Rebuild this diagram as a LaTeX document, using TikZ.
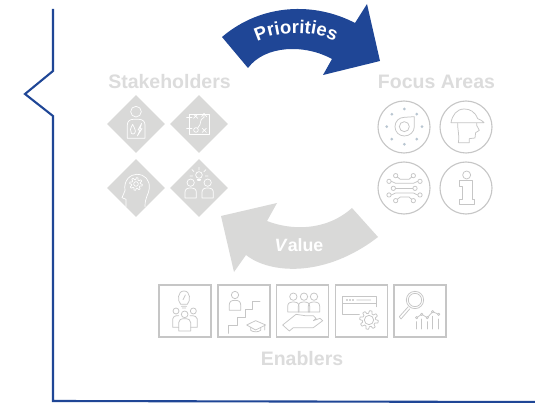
\documentclass[tikz,border=0pt]{standalone}
\usepackage{fontspec}
\setmainfont{Liberation Sans}
\usetikzlibrary{shapes.geometric,decorations.text}
\definecolor{navy}{HTML}{1F4696}
\definecolor{lightg}{HTML}{D9D9D8}
\definecolor{txtg}{HTML}{DCDCDC}
\definecolor{lineg}{HTML}{C6C6C6}
\definecolor{dotg}{HTML}{B9C6D1}
\tikzset{
  frameline/.style={draw=navy,line width=2.1pt,line join=miter},
  dia/.style={diamond,aspect=1,fill=lightg,inner sep=0pt,minimum width=58pt,minimum height=58pt},
  circ/.style={circle,draw=lineg,line width=1.1pt,inner sep=0pt,minimum size=52pt},
  sq/.style={rectangle,draw=lineg,line width=1.3pt,inner sep=0pt,minimum size=52pt},
  head/.style={font=\bfseries\fontsize{19.5}{21}\selectfont,text=txtg,inner sep=0pt},
  wic/.style={draw=white,line width=.7pt,line join=round,line cap=round},
  gic/.style={draw=lineg,line width=.75pt,line join=round,line cap=round},
  person/.pic={\path[pic actions] (0,0) circle (11);
    \path[pic actions] (-17,46) -- (-17,29) .. controls (-17,19) and (-10,16) .. (0,16) .. controls (10,16) and (17,19) .. (17,29) -- (17,46) -- cycle;},
  zm/.style 2 args={shift={(#1,#2)},x=.3333pt,y=-.3333pt},
}
\begin{document}
\begin{tikzpicture}[x=1pt,y=-1pt]
\useasboundingbox (0,0) rectangle (535,403);
\fill[white] (0,0) rectangle (535,403);
% frame
\coordinate (f1) at (53,9);\coordinate (f2) at (53,71);\coordinate (f3) at (25,94);
\coordinate (f4) at (53,116);\coordinate (f5) at (53,401);\coordinate (f6) at (535,402);
\draw[frameline] (f1)--(f2)--(f3)--(f4)--(f5)--(f6);
% arrows
\fill[navy] (222,37) .. controls (262,3) and (315,2) .. (355,23) -- (367,4) -- (380,61) -- (323,75) -- (332,59)
  .. controls (305,44) and (265,45) .. (248,68) -- cycle;
\path[postaction={decorate,decoration={text along path,text align=center,
   text={|\bfseries\fontsize{18.5}{20}\selectfont\color{white}|Priorities}}}]
   (246,48) .. controls (273,28) and (320,28) .. (346,48);
\fill[lightg] (352,208) .. controls (325,232) and (290,230) .. (267,221) -- (277,203) -- (221,216) -- (234,272) -- (246,255)
  .. controls (270,274) and (325,278) .. (378,237) -- cycle;
\node[font=\bfseries\fontsize{17.8}{19}\selectfont,text=white,inner sep=0pt] (val) at (299,245) {\textit{V}alue};
% headings
\node[head] (stk) at (169.5,82) {Stakeholders};
\node[head] (foc) at (436.5,82) {Focus Areas};
\node[head] (ena) at (302,359) {Enablers};
% diamonds
\node[dia] (d1) at (136,124) {};
\node[dia] (d2) at (199,124) {};
\node[dia] (d3) at (136,188) {};
\node[dia] (d4) at (199,188) {};
\begin{scope}[zm={90}{60}]
 % d1
 \draw[wic] (138,155) circle (16);
 \draw[wic] (112,235) -- (112,195) .. controls (112,183) and (120,178) .. (130,178) -- (147,178) .. controls (158,178) and (165,185) .. (165,195) -- (165,235) -- cycle;
 \draw[wic] (128,193) .. controls (122,205) and (118,212) .. (124,220) .. controls (130,226) and (140,218) .. (135,208) -- cycle;
 \draw[wic] (155,190) -- (144,210) -- (150,210) -- (142,228) -- (156,206) -- (150,206) -- cycle;
 % d2
 \draw[wic] (298,162) -- (358,162) -- (358,222) -- (298,222) -- cycle;
 \draw[wic] (290,172) -- (306,172) (298,164) -- (298,180) (290,204) -- (306,204);
 \draw[wic] (311,163) -- (323,175) (323,163) -- (311,175) (337,205) -- (349,217) (349,205) -- (337,217);
 \draw[wic] (318,210) circle (7);
 \draw[wic] (323,204) .. controls (338,190) and (325,180) .. (342,172) -- (342,162) (335,170) -- (342,160) -- (350,170);
 % d3
 \draw[wic] (108,440) -- (108,418) -- (96,413) -- (105,392) .. controls (100,360) and (122,343) .. (140,343) .. controls (165,343) and (180,360) .. (178,385) .. controls (176,405) and (165,410) .. (165,440);
 \draw[wic,shift={(138,372)}] plot[domain=0:360,samples=97] (\x:{16+3*sign(sin(8*\x))});
 \draw[wic] (138,372) circle (7);
 % d4
 \pic[wic] at (302,368) {person};
 \pic[wic] at (353,368) {person};
 \draw[wic] (327,345) circle (10);
 \draw[wic] (322,357) -- (332,357) (323,362) -- (331,362);
 \draw[wic] (327,330) -- (327,322) (312,335) -- (306,329) (342,335) -- (348,329) (308,348) -- (300,348) (346,348) -- (354,348);
\end{scope}
% circles
\node[circ] (c1) at (404,127) {};
\node[circ] (c2) at (466,127) {};
\node[circ] (c3) at (404,188) {};
\node[circ] (c4) at (466,188) {};
\begin{scope}[zm={365}{60}]
 % turbine
 \draw[gic] (118,200) circle (15);
 \draw[gic] (148,170) -- (148,200) .. controls (148,216) and (134,228) .. (118,228) .. controls (102,228) and (90,216) .. (90,200) .. controls (90,184) and (102,172) .. (118,172) -- cycle;
 \foreach \a in {0,45,...,315} \fill[dotg] (118,200) ++(\a:53) circle (4.5);
 % helmet
 \draw[gic] (258,188) -- (357,188) .. controls (350,180) and (342,178) .. (338,176) .. controls (330,155) and (315,147) .. (298,147) .. controls (275,147) and (262,165) .. (258,188) -- cycle;
 \draw[gic] (278,190) .. controls (278,215) and (284,225) .. (280,248) -- (313,248) -- (313,236) -- (330,234) -- (332,218) -- (343,211) -- (335,196) -- (335,190);
 % circuit
 \foreach \p/\q in {92/347,145/347,72/364,165/364,85/385,150/385,72/405,165/405,92/422,145/422} \draw[gic] (\p,\q) circle (6.5);
 \draw[gic] (97,351) -- (106,358) -- (132,358) -- (140,351);
 \draw[gic] (79,364) -- (92,370) -- (145,370) -- (158,364);
 \draw[gic] (92,385) -- (143,385);
 \draw[gic] (79,405) -- (92,399) -- (145,399) -- (158,405);
 \draw[gic] (97,418) -- (106,411) -- (132,411) -- (140,418);
 % info
 \draw[gic] (305,345) circle (12);
 \draw[gic] (283,362) -- (322,362) -- (322,418) -- (327,418) -- (327,432) -- (283,432) -- (283,418) -- (292,418) -- (292,378) -- (283,378) -- cycle;
\end{scope}
% squares
\node[sq] (s1) at (185,311) {};
\node[sq] (s2) at (244,311) {};
\node[sq] (s3) at (302.5,311) {};
\node[sq] (s4) at (361.5,311) {};
\node[sq] (s5) at (420,311) {};
\begin{scope}[zm={150}{275}]
 % s1
 \draw[gic] (92,88) .. controls (82,78) and (82,48) .. (102,48) .. controls (122,48) and (122,78) .. (112,88) -- cycle;
 \draw[gic] (94,94) -- (110,94) (97,99) -- (107,99) (106,60) -- (99,74);
 \draw[gic] (78,108) circle (9) (130,108) circle (9);
 \draw[gic] (86,157) -- (68,157) -- (68,132) .. controls (68,125) and (74,122) .. (86,122) (120,122) .. controls (135,122) and (142,125) .. (142,132) -- (142,157) -- (122,157);
 \draw[gic] (104,118) circle (10);
 \draw[gic] (86,168) -- (86,143) .. controls (86,135) and (92,131) .. (104,131) .. controls (116,131) and (122,135) .. (122,143) -- (122,168) -- cycle;
 % s2
 \pic[gic] at (255,60) {person};
 \draw[gic] (235,175) -- (235,152) -- (262,152) -- (262,127) -- (285,127) -- (285,103) -- (307,103) -- (307,80) -- (330,80);
 \draw[gic] (290,150) -- (317,137) -- (347,150) -- (317,165) -- cycle;
 \draw[gic] (302,157) -- (302,166) .. controls (310,172) and (325,172) .. (332,166) -- (332,157) (344,152) -- (344,165);
\end{scope}
\begin{scope}[zm={300}{275}]
 % s3
 \pic[gic] at (-20,65) {person};
 \pic[gic] at (12,65) {person};
 \pic[gic] at (42,65) {person};
 \draw[gic,fill=white] (-52,150) -- (-12,118) -- (15,122) -- (40,122) -- (48,130) -- (40,137) -- (60,130) -- (68,137) -- (40,158) -- (-20,158) -- (-32,168) -- cycle;
 % s4
 \draw[gic] (128,118) -- (128,65) -- (228,65) -- (228,95) (128,85) -- (228,85) (128,118) -- (178,118);
 \draw[gic] (141,75) circle (2) (150,75) circle (2) (159,75) circle (2) (170,75) -- (212,75);
 \draw[gic,shift={(207,135)}] plot[domain=0:360,samples=97] (\x:{24+4*sign(sin(8*\x))});
 \draw[gic] (207,135) circle (14);
 % s5
 \draw[gic] (345,75) circle (26) (345,75) circle (20);
 \draw[gic] (324,96) -- (298,125) -- (303,132) -- (329,102);
 \draw[gic] (350,128) -- (365,118) -- (382,128) -- (398,110) -- (416,118);
 \foreach \p/\q in {350/128,365/118,382/128,398/110,416/118} \draw[gic,fill=white] (\p,\q) circle (3.5);
 \draw[gic] (350,162) -- (350,140) (365,162) -- (365,132) (382,162) -- (382,140) (398,162) -- (398,124) (416,162) -- (416,132);
\end{scope}
\end{tikzpicture}
\end{document}
